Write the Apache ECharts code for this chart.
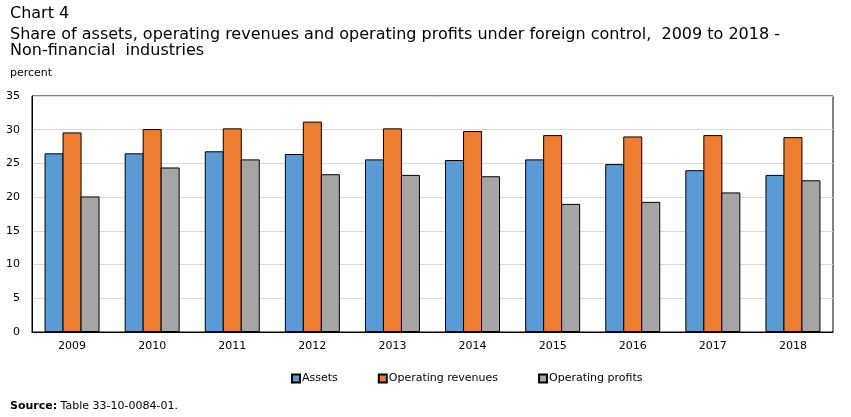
<!DOCTYPE html>
<html>
<head>
<meta charset="utf-8">
<script src="https://cdn.jsdelivr.net/npm/echarts@6/dist/echarts.min.js"></script>
<style>
  html, body { margin: 0; padding: 0; background: #fff; }
  #chart { width: 851px; height: 417px; }
</style>
</head>
<body>
<div id="chart"></div>
<script>
const years = ["2009", "2010", "2011", "2012", "2013", "2014", "2015", "2016", "2017", "2018"];
const assets = [26.5, 26.5, 26.8, 26.4, 25.6, 25.5, 25.6, 24.9, 24.0, 23.3];
const operatingRevenues = [29.6, 30.1, 30.2, 31.2, 30.2, 29.8, 29.2, 29.0, 29.2, 28.9];
const operatingProfits = [20.1, 24.4, 25.6, 23.4, 23.3, 23.1, 19.0, 19.3, 20.7, 22.5];

const font = "DejaVu Sans, Verdana, sans-serif";

const chart = echarts.init(document.getElementById("chart"));

// bars share their 1px black edges, like the original
const barSeries = (name, data, color) => ({
  name,
  type: "bar",
  data,
  barWidth: 19,
  barGap: "-5.3%",
  itemStyle: {color, borderColor: "#000", borderWidth: 1},
  animation: false,
});

chart.setOption({
  backgroundColor: "#fff",
  textStyle: {fontFamily: font},
  title: [
    {
      text: "Chart 4",
      left: 5, top: 1,
      textStyle: {fontFamily: font, fontSize: 16, fontWeight: "normal", color: "#000"},
    },
    {
      text: "Share of assets, operating revenues and operating profits under foreign control,  2009 to 2018 -\nNon-financial  industries",
      left: 5, top: 22,
      textStyle: {fontFamily: font, fontSize: 16, fontWeight: "normal", color: "#000", lineHeight: 16},
    },
    {
      text: "percent",
      left: 5, top: 63,
      textStyle: {fontFamily: font, fontSize: 11, fontWeight: "normal", color: "#000"},
    },
    {
      text: "{b|Source:} Table 33-10-0084-01.",
      left: 5, top: 396,
      textStyle: {
        fontFamily: font, fontSize: 11, fontWeight: "normal", color: "#000",
        rich: {b: {fontFamily: font, fontSize: 11, fontWeight: "bold", color: "#000"}},
      },
    },
  ],
  grid: {
    left: 32, right: 18, top: 96, bottom: 85,
    show: true, borderColor: "#000", borderWidth: 1,
  },
  legend: {
    bottom: 28,
    left: 286,
    icon: "rect",
    itemWidth: 8,
    itemHeight: 8,
    itemGap: 40,
    textStyle: {fontFamily: font, fontSize: 11, color: "#000", padding: [0, 0, 0, -3]},
    data: ["Assets", "Operating revenues", "Operating profits"],
  },
  xAxis: {
    type: "category",
    data: years,
    axisTick: {show: false},
    axisLine: {lineStyle: {color: "#000"}},
    axisLabel: {fontFamily: font, fontSize: 11, color: "#000", margin: 9},
  },
  yAxis: {
    type: "value",
    min: 0, max: 35, interval: 5,
    axisTick: {show: false},
    axisLine: {show: true, lineStyle: {color: "#000"}},
    axisLabel: {fontFamily: font, fontSize: 11, color: "#000", margin: 12},
    splitLine: {lineStyle: {color: "#d9d9d9"}},
  },
  series: [
    barSeries("Assets", assets, "#5b9bd5"),
    barSeries("Operating revenues", operatingRevenues, "#ed7d31"),
    barSeries("Operating profits", operatingProfits, "#a5a5a5"),
  ],
});
</script>
</body>
</html>
